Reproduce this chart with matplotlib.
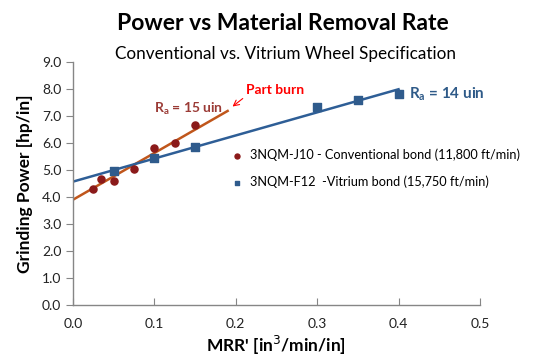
import matplotlib
matplotlib.use("Agg")
import matplotlib.pyplot as plt
import numpy as np

plt.rcParams['font.family'] = ['Lato', 'DejaVu Sans']

# Data
conv_x = [0.025, 0.035, 0.05, 0.075, 0.10, 0.125, 0.15]
conv_y = [4.30, 4.65, 4.60, 5.05, 5.80, 6.00, 6.65]
vit_x = [0.05, 0.10, 0.15, 0.30, 0.35, 0.40]
vit_y = [4.95, 5.45, 5.85, 7.35, 7.58, 7.80]

# Trendlines (intercept, slope, x range)
conv_fit = (3.90, 17.3)
conv_range = [0.0, 0.19]
vit_fit = (4.57, 8.55)
vit_range = [0.0, 0.40]

xticks = [0.0, 0.1, 0.2, 0.3, 0.4, 0.5]
yticks = [0.0, 1.0, 2.0, 3.0, 4.0, 5.0, 6.0, 7.0, 8.0, 9.0]

red_m = '#8B1A1A'
red_l = '#C0561B'
blue_m = '#2F5B8C'
blue_l = '#2E5E96'
grey = '#868686'

fig = plt.figure(figsize=(5.38, 3.64), dpi=100)
ax = fig.add_axes([0.1357, 0.162, 0.7563, 0.6677])

cx = np.array(conv_range)
ax.plot(cx, conv_fit[0] + conv_fit[1] * cx, color=red_l, lw=1.8, zorder=2)
vx = np.array(vit_range)
ax.plot(vx, vit_fit[0] + vit_fit[1] * vx, color=blue_l, lw=1.8, zorder=2)

ax.scatter(conv_x, conv_y, s=26, marker='o', color=red_m, zorder=3,
           label='3NQM-J10 - Conventional bond (11,800 ft/min)')
ax.scatter(vit_x, vit_y, s=26, marker='s', color=blue_m, zorder=3,
           label='3NQM-F12  -Vitrium bond (15,750 ft/min)')

ax.set_xlim(0, 0.5)
ax.set_ylim(0, 9)
ax.set_xticks(xticks)
ax.set_yticks(yticks)
ax.set_xticklabels([f'{v:.1f}' for v in xticks])
ax.set_yticklabels([f'{v:.1f}' for v in yticks])
for s in ['top', 'right']:
    ax.spines[s].set_visible(False)
for s in ['left', 'bottom']:
    ax.spines[s].set_color(grey)
    ax.spines[s].set_linewidth(1.0)
ax.tick_params(axis='x', direction='in', length=5, color=grey, labelsize=10, labelcolor='#222222', pad=9)
ax.tick_params(axis='y', direction='out', length=5, color=grey, labelsize=10, labelcolor='#222222')

ax.set_xlabel("MRR' [in$^3$/min/in]", fontsize=12.5, fontweight='bold', labelpad=3)
ax.set_ylabel("Grinding Power [hp/in]", fontsize=12.5, fontweight='bold', labelpad=6)

fig.text(0.525, 0.935, 'Power vs Material Removal Rate', ha='center', va='center',
         fontsize=16.5, fontweight='bold')
fig.text(0.53, 0.852, 'Conventional vs. Vitrium Wheel Specification', ha='center', va='center',
         fontsize=12.3)

ax.text(0.1, 7.27, 'R$_\\mathregular{a}$ = 15 uin', color='#9B3B36', fontsize=10,
        fontweight='bold', ha='left', va='center')
ax.text(0.413, 7.8, 'R$_\\mathregular{a}$ = 14 uin', color='#2E5A88', fontsize=11,
        fontweight='bold', ha='left', va='center')
ax.annotate('Part burn', xy=(0.196, 7.35), xytext=(0.212, 7.95), color='#FF0000',
            fontsize=10, fontweight='bold', ha='left', va='center',
            arrowprops=dict(arrowstyle='->', color='#FF0000', lw=0.8,
                            shrinkA=0, shrinkB=0, relpos=(0.0, 0.0)))

leg = ax.legend(loc='upper left', bbox_to_anchor=(0.36, 0.665), frameon=False,
                fontsize=9.2, handletextpad=0.0, markerscale=0.7,
                labelspacing=1.15, borderaxespad=0)

fig.savefig('out.png', dpi=100)
